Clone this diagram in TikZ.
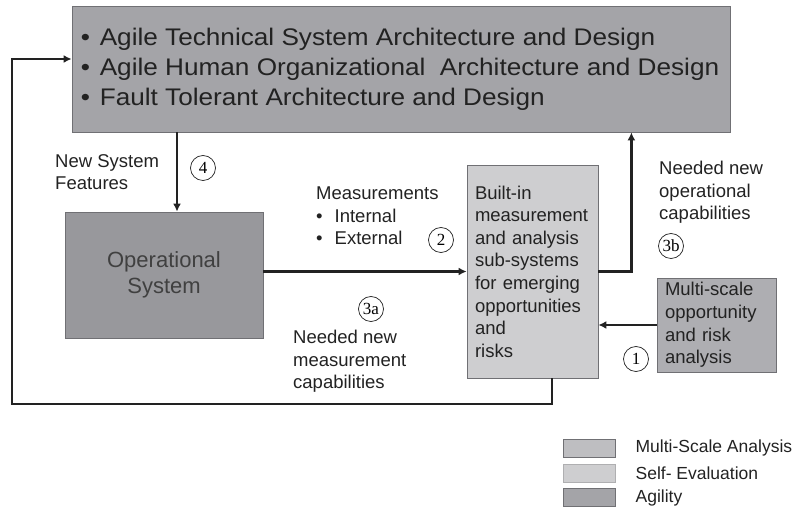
\documentclass[tikz,border=0pt]{standalone}
\usepackage{fontspec}
\setmainfont{Liberation Sans}
\newfontfamily\numfont{Liberation Serif}
\newfontfamily\widefont[FakeStretch=1.09]{Liberation Sans}
\usepackage{xcolor}
\usepackage{tikz}
\usetikzlibrary{arrows.meta}
\usetikzlibrary{positioning}
\definecolor{agility}{RGB}{164,164,168}
\definecolor{agilitydark}{RGB}{152,152,156}
\definecolor{selfeval}{RGB}{206,206,208}
\definecolor{multiscale}{RGB}{174,174,178}
\definecolor{inkgray}{RGB}{34,34,34}
\definecolor{edgegray}{RGB}{112,112,116}
\tikzstyle{block} = [draw=edgegray,
	line width=0.8pt,
	inner sep=0pt,
	text=inkgray]
\tikzstyle{note} = [inner sep=0pt, anchor=base west, align=left,
	text=inkgray, font=\fontsize{18.5}{22.6}\selectfont]
\tikzstyle{swatch} = [draw=edgegray, line width=0.8pt,
	minimum width=52pt, minimum height=18pt, inner sep=0pt]
\tikzstyle{arrow} =[-{Latex[length=8pt,width=8pt]}, line width=2.4pt, draw=inkgray]
\newcommand{\stepmark}[3]{\node[draw=inkgray,
	line width=0.7pt,
	circle,
	minimum size=25pt,
	inner sep=0pt,
	font=\numfont\fontsize{17}{17}\selectfont
	] (#1) at #2{#3};}

\begin{document}
\begin{tikzpicture}[x=1pt,y=-1pt]
	\useasboundingbox (0,0) rectangle (804,510);
	
	% architecture box
	\node (arch) [block, fill=agility, minimum width=658pt, minimum height=126pt,
		align=left, font=\widefont\fontsize{24}{30}\selectfont]
		at (401,69) {\makebox[0pt][l]{\hspace{-2pt}•}\hspace{17pt}Agile Technical System Architecture and Design\\
		\makebox[0pt][l]{\hspace{-2pt}•}\hspace{17pt}Agile Human Organizational\ \ Architecture and Design\\
		\makebox[0pt][l]{\hspace{-2pt}•}\hspace{17pt}Fault Tolerant Architecture and Design};
	
	\node (op) [block, fill=agilitydark, minimum width=198pt, minimum height=126pt,
		align=center, text=black!75, font=\fontsize{22}{26}\selectfont]
		at (164,275) {Operational\\System};
	\node (built) [block, fill=selfeval, minimum width=131pt, minimum height=213pt,
		text width=115pt, align=left, font=\fontsize{18.5}{22.6}\selectfont]
		at (532.5,271.5) {Built-in\\measurement\\and analysis\\sub-systems\\for emerging\\opportunities\\and\\risks};
	\node (multi) [block, fill=multiscale, minimum width=119pt, minimum height=94pt,
		text width=103pt, align=left, font=\fontsize{18.5}{22.8}\selectfont]
		at (716.5,325) {Multi-scale\\opportunity\\and risk\\analysis};
	
	% labels (base = last line)
	\node (features) [note] at (55,190) {New System\\Features};
	\node (meas) [note] at (316,245) {Measurements\\•\hspace{12pt}Internal\\•\hspace{12pt}External};
	\node (opneed) [note] at (659,220) {Needed new\\operational\\capabilities};
	\node (measneed) [note] at (293,389) {Needed new\\measurement\\capabilities};
	
	\stepmark{c4}{(203,168)}{4}
	\stepmark{c2}{(441,240)}{2}
	\stepmark{c3b}{(671,246)}{3b}
	\stepmark{c3a}{(371,309)}{3a}
	\stepmark{c1}{(636,359)}{1}
	
	% connectors
	\coordinate (opin) at ([xshift=13pt]op.north);
	\coordinate (fbturn) at (12,404);
	\draw [arrow] (arch.south -| opin) -- (opin);
	\draw [arrow] (op.east |- built.west) -- (built.west);
	\draw [arrow] (built.east) -| ([xshift=-99pt]arch.south east);
	\draw [arrow] (multi.west) -- (multi.west -| built.east);
	\draw [arrow] ([xshift=19.5pt]built.south) |- (fbturn) |- ([yshift=10pt]arch.west);
	
	% legend
	\node (legms) [swatch, fill=multiscale!80!white] at (589,448) {};
	\node (legse) [swatch, fill=selfeval, draw=selfeval!85!black] at (589,473) {};
	\node (legag) [swatch, fill=agility] at (589,497.5) {};
	\node (legmstext) [note, right=20pt of legms, font=\fontsize{17.5}{20}\selectfont] {Multi-Scale Analysis};
	\node (legsetext) [note, right=20pt of legse, font=\fontsize{17.5}{20}\selectfont] {Self- Evaluation};
	\node (legagtext) [note, right=20pt of legag, font=\fontsize{17.5}{20}\selectfont] {Agility};
\end{tikzpicture}
\end{document}
